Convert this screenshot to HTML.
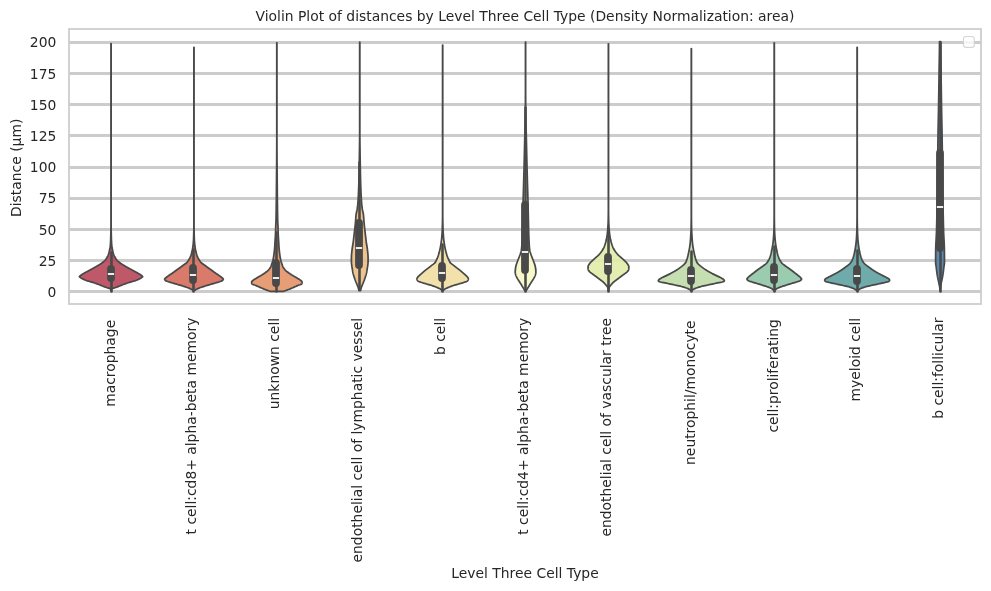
<!DOCTYPE html>
<html lang="en"><head><meta charset="utf-8"><title>Violin Plot of distances by Level Three Cell Type</title>
<style>html,body{margin:0;padding:0;background:#fff}svg{display:block}</style></head>
<body>
<svg width="991" height="591" viewBox="0 0 991 591">
<rect width="991" height="591" fill="#ffffff"/>
<path d="M69.0 291.5H981.0 M69.0 260.5H981.0 M69.0 229.5H981.0 M69.0 198.5H981.0 M69.0 167.5H981.0 M69.0 135.5H981.0 M69.0 104.5H981.0 M69.0 73.5H981.0 M69.0 42.5H981.0" stroke="#cccccc" stroke-width="2.78" fill="none"/>
<path d="M110.97 43.50 L110.97 47.50 L110.97 51.50 L110.97 55.50 L110.97 59.50 L110.97 63.50 L110.97 67.50 L110.97 71.50 L110.97 75.50 L110.97 79.50 L110.97 83.50 L110.97 87.50 L110.97 91.50 L110.97 95.50 L110.97 99.50 L110.97 103.50 L110.97 107.50 L110.97 111.50 L110.97 115.50 L110.97 119.50 L110.97 123.50 L110.97 127.50 L110.97 131.50 L110.97 135.50 L110.97 139.50 L110.97 143.50 L110.97 147.50 L110.97 151.50 L110.97 155.50 L110.97 159.50 L110.97 163.50 L110.97 167.50 L110.97 171.50 L110.97 175.50 L110.97 179.50 L110.97 183.50 L110.97 187.50 L110.97 191.50 L110.97 195.50 L110.97 199.50 L110.97 203.50 L110.97 207.50 L110.97 211.50 L110.97 215.50 L110.97 219.50 L110.97 223.50 L110.96 227.50 L110.90 231.50 L110.81 235.50 L110.69 239.50 L110.51 243.50 L110.16 247.50 L109.67 249.50 L109.25 251.50 L108.77 253.50 L108.03 255.50 L107.56 256.50 L107.02 257.50 L106.41 258.50 L105.69 259.50 L104.86 260.50 L103.84 261.50 L102.60 262.50 L101.22 263.50 L99.70 264.50 L98.05 265.50 L96.35 266.50 L94.58 267.50 L92.78 268.50 L90.95 269.50 L89.10 270.50 L87.26 271.50 L85.41 272.50 L84.87 272.80 L84.34 273.10 L83.84 273.40 L83.35 273.70 L82.85 274.00 L82.34 274.30 L81.84 274.60 L81.36 274.90 L80.91 275.20 L80.51 275.50 L80.17 275.80 L79.90 276.10 L79.64 276.40 L79.42 276.70 L79.81 277.00 L80.19 277.30 L80.57 277.60 L80.96 277.90 L81.42 278.20 L81.92 278.50 L82.47 278.80 L83.07 279.10 L83.70 279.40 L84.37 279.70 L85.08 280.00 L85.81 280.30 L86.59 280.60 L87.52 280.90 L88.55 281.20 L89.63 281.50 L90.72 281.80 L91.77 282.10 L92.75 282.40 L93.66 282.70 L94.55 283.00 L95.42 283.30 L96.27 283.60 L97.11 283.90 L97.93 284.20 L98.74 284.50 L99.55 284.80 L100.33 285.10 L101.07 285.40 L101.79 285.70 L102.50 286.00 L103.21 286.30 L103.94 286.60 L104.71 286.90 L105.51 287.20 L106.41 287.50 L107.57 287.80 L108.77 288.10 L109.62 288.40 L110.04 288.70 L110.32 289.00 L110.53 289.30 L110.70 289.60 L110.84 289.90 L110.94 290.20 L111.00 290.50 L111.05 290.75 L111.05 290.75 L111.10 290.50 L111.16 290.20 L111.26 289.90 L111.40 289.60 L111.57 289.30 L111.78 289.00 L112.06 288.70 L112.48 288.40 L113.33 288.10 L114.53 287.80 L115.69 287.50 L116.59 287.20 L117.39 286.90 L118.16 286.60 L118.89 286.30 L119.60 286.00 L120.31 285.70 L121.03 285.40 L121.77 285.10 L122.55 284.80 L123.36 284.50 L124.17 284.20 L124.99 283.90 L125.83 283.60 L126.68 283.30 L127.55 283.00 L128.44 282.70 L129.35 282.40 L130.33 282.10 L131.38 281.80 L132.47 281.50 L133.55 281.20 L134.58 280.90 L135.51 280.60 L136.29 280.30 L137.02 280.00 L137.73 279.70 L138.40 279.40 L139.03 279.10 L139.63 278.80 L140.18 278.50 L140.68 278.20 L141.14 277.90 L141.53 277.60 L141.91 277.30 L142.29 277.00 L142.68 276.70 L142.46 276.40 L142.20 276.10 L141.93 275.80 L141.59 275.50 L141.19 275.20 L140.74 274.90 L140.26 274.60 L139.76 274.30 L139.25 274.00 L138.75 273.70 L138.26 273.40 L137.76 273.10 L137.23 272.80 L136.69 272.50 L134.84 271.50 L133.00 270.50 L131.15 269.50 L129.32 268.50 L127.52 267.50 L125.75 266.50 L124.05 265.50 L122.40 264.50 L120.88 263.50 L119.50 262.50 L118.26 261.50 L117.24 260.50 L116.41 259.50 L115.69 258.50 L115.08 257.50 L114.54 256.50 L114.07 255.50 L113.33 253.50 L112.85 251.50 L112.43 249.50 L111.94 247.50 L111.59 243.50 L111.41 239.50 L111.29 235.50 L111.20 231.50 L111.14 227.50 L111.13 223.50 L111.13 219.50 L111.13 215.50 L111.13 211.50 L111.13 207.50 L111.13 203.50 L111.13 199.50 L111.13 195.50 L111.13 191.50 L111.13 187.50 L111.13 183.50 L111.13 179.50 L111.13 175.50 L111.13 171.50 L111.13 167.50 L111.13 163.50 L111.13 159.50 L111.13 155.50 L111.13 151.50 L111.13 147.50 L111.13 143.50 L111.13 139.50 L111.13 135.50 L111.13 131.50 L111.13 127.50 L111.13 123.50 L111.13 119.50 L111.13 115.50 L111.13 111.50 L111.13 107.50 L111.13 103.50 L111.13 99.50 L111.13 95.50 L111.13 91.50 L111.13 87.50 L111.13 83.50 L111.13 79.50 L111.13 75.50 L111.13 71.50 L111.13 67.50 L111.13 63.50 L111.13 59.50 L111.13 55.50 L111.13 51.50 L111.13 47.50 L111.13 43.50 Z" fill="#b84659" fill-opacity="0.9" stroke="#494949" stroke-width="1.74" stroke-linejoin="round"/>
<path d="M193.87 47.30 L193.87 51.30 L193.87 55.30 L193.87 59.30 L193.87 63.30 L193.87 67.30 L193.87 71.30 L193.87 75.30 L193.87 79.30 L193.87 83.30 L193.87 87.30 L193.87 91.30 L193.87 95.30 L193.87 99.30 L193.87 103.30 L193.87 107.30 L193.87 111.30 L193.87 115.30 L193.87 119.30 L193.87 123.30 L193.87 127.30 L193.87 131.30 L193.87 135.30 L193.87 139.30 L193.87 143.30 L193.87 147.30 L193.87 151.30 L193.87 155.30 L193.87 159.30 L193.87 163.30 L193.87 167.30 L193.87 171.30 L193.87 175.30 L193.87 179.30 L193.87 183.30 L193.87 187.30 L193.87 191.30 L193.87 195.30 L193.87 199.30 L193.87 203.30 L193.87 207.30 L193.87 211.30 L193.87 215.30 L193.87 219.30 L193.87 223.30 L193.86 227.30 L193.80 231.30 L193.70 235.30 L193.56 239.30 L193.30 243.30 L193.07 245.30 L192.80 247.30 L192.48 249.30 L192.07 251.30 L191.59 253.30 L190.98 255.30 L190.17 257.30 L189.68 258.30 L189.11 259.30 L188.49 260.30 L187.83 261.30 L187.05 262.30 L186.00 263.30 L184.64 264.30 L183.23 265.30 L181.90 266.30 L180.56 267.30 L179.16 268.30 L177.70 269.30 L176.27 270.30 L174.92 271.30 L173.60 272.30 L172.18 273.30 L170.63 274.30 L170.16 274.60 L169.70 274.90 L169.26 275.20 L168.82 275.50 L168.39 275.80 L167.96 276.10 L167.53 276.40 L167.12 276.70 L166.71 277.00 L166.34 277.30 L165.99 277.60 L165.68 277.90 L165.36 278.20 L165.04 278.50 L164.74 278.80 L164.58 279.10 L164.66 279.40 L164.80 279.70 L164.99 280.00 L165.21 280.30 L165.54 280.60 L166.13 280.90 L166.88 281.20 L167.68 281.50 L168.50 281.80 L169.39 282.10 L170.40 282.40 L171.48 282.70 L172.56 283.00 L173.61 283.30 L174.64 283.60 L175.66 283.90 L176.68 284.20 L177.70 284.50 L178.71 284.80 L179.73 285.10 L180.76 285.40 L181.77 285.70 L182.76 286.00 L183.70 286.30 L184.62 286.60 L185.52 286.90 L186.40 287.20 L187.24 287.50 L188.04 287.80 L188.79 288.10 L189.48 288.40 L190.13 288.70 L190.75 289.00 L191.34 289.30 L191.90 289.60 L192.43 289.90 L192.94 290.20 L193.42 290.50 L193.95 290.57 L193.95 290.57 L194.48 290.50 L194.96 290.20 L195.47 289.90 L196.00 289.60 L196.56 289.30 L197.15 289.00 L197.77 288.70 L198.42 288.40 L199.11 288.10 L199.86 287.80 L200.66 287.50 L201.50 287.20 L202.38 286.90 L203.28 286.60 L204.20 286.30 L205.14 286.00 L206.13 285.70 L207.14 285.40 L208.17 285.10 L209.19 284.80 L210.20 284.50 L211.22 284.20 L212.24 283.90 L213.26 283.60 L214.29 283.30 L215.34 283.00 L216.42 282.70 L217.50 282.40 L218.51 282.10 L219.40 281.80 L220.22 281.50 L221.02 281.20 L221.77 280.90 L222.36 280.60 L222.69 280.30 L222.91 280.00 L223.10 279.70 L223.24 279.40 L223.32 279.10 L223.16 278.80 L222.86 278.50 L222.54 278.20 L222.22 277.90 L221.91 277.60 L221.56 277.30 L221.19 277.00 L220.78 276.70 L220.37 276.40 L219.94 276.10 L219.51 275.80 L219.08 275.50 L218.64 275.20 L218.20 274.90 L217.74 274.60 L217.27 274.30 L215.72 273.30 L214.30 272.30 L212.98 271.30 L211.63 270.30 L210.20 269.30 L208.74 268.30 L207.34 267.30 L206.00 266.30 L204.67 265.30 L203.26 264.30 L201.90 263.30 L200.85 262.30 L200.07 261.30 L199.41 260.30 L198.79 259.30 L198.22 258.30 L197.73 257.30 L196.92 255.30 L196.31 253.30 L195.83 251.30 L195.42 249.30 L195.10 247.30 L194.83 245.30 L194.60 243.30 L194.34 239.30 L194.20 235.30 L194.10 231.30 L194.04 227.30 L194.03 223.30 L194.03 219.30 L194.03 215.30 L194.03 211.30 L194.03 207.30 L194.03 203.30 L194.03 199.30 L194.03 195.30 L194.03 191.30 L194.03 187.30 L194.03 183.30 L194.03 179.30 L194.03 175.30 L194.03 171.30 L194.03 167.30 L194.03 163.30 L194.03 159.30 L194.03 155.30 L194.03 151.30 L194.03 147.30 L194.03 143.30 L194.03 139.30 L194.03 135.30 L194.03 131.30 L194.03 127.30 L194.03 123.30 L194.03 119.30 L194.03 115.30 L194.03 111.30 L194.03 107.30 L194.03 103.30 L194.03 99.30 L194.03 95.30 L194.03 91.30 L194.03 87.30 L194.03 83.30 L194.03 79.30 L194.03 75.30 L194.03 71.30 L194.03 67.30 L194.03 63.30 L194.03 59.30 L194.03 55.30 L194.03 51.30 L194.03 47.30 Z" fill="#d56b5b" fill-opacity="0.9" stroke="#494949" stroke-width="1.74" stroke-linejoin="round"/>
<path d="M276.77 42.80 L276.77 46.80 L276.77 50.80 L276.77 54.80 L276.77 58.80 L276.77 62.80 L276.77 66.80 L276.77 70.80 L276.77 74.80 L276.77 78.80 L276.77 82.80 L276.77 86.80 L276.77 90.80 L276.77 94.80 L276.77 98.80 L276.77 102.80 L276.77 106.80 L276.77 110.80 L276.77 114.80 L276.77 118.80 L276.77 122.80 L276.77 126.80 L276.77 130.80 L276.77 134.80 L276.77 138.80 L276.77 142.80 L276.76 146.80 L276.74 150.80 L276.72 154.80 L276.70 158.80 L276.67 162.80 L276.63 166.80 L276.60 170.80 L276.56 174.80 L276.53 178.80 L276.50 182.80 L276.46 186.80 L276.43 190.80 L276.39 194.80 L276.35 198.80 L276.31 202.80 L276.26 206.80 L276.20 210.80 L276.16 212.80 L276.13 214.80 L276.09 216.80 L276.05 218.80 L276.00 220.80 L275.91 222.80 L275.81 224.80 L275.72 226.80 L275.66 228.80 L275.61 230.80 L275.55 232.80 L275.46 234.80 L275.34 236.80 L275.22 238.80 L275.09 240.80 L274.98 242.80 L274.87 244.80 L274.74 246.80 L274.58 248.80 L274.38 250.80 L274.15 252.80 L273.89 254.80 L273.59 256.80 L273.42 257.80 L273.23 258.80 L273.02 259.80 L272.80 260.80 L272.52 261.80 L272.19 262.80 L271.84 263.80 L271.50 264.80 L271.17 265.80 L270.77 266.80 L270.22 267.80 L269.52 268.80 L268.69 269.80 L267.68 270.80 L266.50 271.80 L265.21 272.80 L263.77 273.80 L262.23 274.80 L260.57 275.80 L258.81 276.80 L257.09 277.80 L256.57 278.10 L256.05 278.40 L255.53 278.70 L255.02 279.00 L254.54 279.30 L254.08 279.60 L253.67 279.90 L253.26 280.20 L252.86 280.50 L252.48 280.80 L252.15 281.10 L251.92 281.40 L251.79 281.70 L251.68 282.00 L251.62 282.30 L251.63 282.60 L251.67 282.90 L251.73 283.20 L251.81 283.50 L251.90 283.80 L252.23 284.10 L252.87 284.40 L253.65 284.70 L254.49 285.00 L255.33 285.30 L256.11 285.60 L256.81 285.90 L257.47 286.20 L258.12 286.50 L258.78 286.80 L259.43 287.10 L260.09 287.40 L260.77 287.70 L261.46 288.00 L262.17 288.30 L262.89 288.60 L263.62 288.90 L264.37 289.20 L265.14 289.50 L265.91 289.80 L266.69 290.10 L267.50 290.40 L268.32 290.70 L269.16 291.00 L270.01 291.30 L270.24 291.38 L283.46 291.38 L283.69 291.30 L284.54 291.00 L285.38 290.70 L286.20 290.40 L287.01 290.10 L287.79 289.80 L288.56 289.50 L289.33 289.20 L290.08 288.90 L290.81 288.60 L291.53 288.30 L292.24 288.00 L292.93 287.70 L293.61 287.40 L294.27 287.10 L294.92 286.80 L295.58 286.50 L296.23 286.20 L296.89 285.90 L297.59 285.60 L298.37 285.30 L299.21 285.00 L300.05 284.70 L300.83 284.40 L301.47 284.10 L301.80 283.80 L301.89 283.50 L301.97 283.20 L302.03 282.90 L302.07 282.60 L302.08 282.30 L302.02 282.00 L301.91 281.70 L301.78 281.40 L301.55 281.10 L301.22 280.80 L300.84 280.50 L300.44 280.20 L300.03 279.90 L299.62 279.60 L299.16 279.30 L298.68 279.00 L298.17 278.70 L297.65 278.40 L297.13 278.10 L296.61 277.80 L294.89 276.80 L293.13 275.80 L291.47 274.80 L289.93 273.80 L288.49 272.80 L287.20 271.80 L286.02 270.80 L285.01 269.80 L284.18 268.80 L283.48 267.80 L282.93 266.80 L282.53 265.80 L282.20 264.80 L281.86 263.80 L281.51 262.80 L281.18 261.80 L280.90 260.80 L280.68 259.80 L280.47 258.80 L280.28 257.80 L280.11 256.80 L279.81 254.80 L279.55 252.80 L279.32 250.80 L279.12 248.80 L278.96 246.80 L278.83 244.80 L278.72 242.80 L278.61 240.80 L278.48 238.80 L278.36 236.80 L278.24 234.80 L278.15 232.80 L278.09 230.80 L278.04 228.80 L277.98 226.80 L277.89 224.80 L277.79 222.80 L277.70 220.80 L277.65 218.80 L277.61 216.80 L277.57 214.80 L277.54 212.80 L277.50 210.80 L277.44 206.80 L277.39 202.80 L277.35 198.80 L277.31 194.80 L277.27 190.80 L277.24 186.80 L277.20 182.80 L277.17 178.80 L277.14 174.80 L277.10 170.80 L277.07 166.80 L277.03 162.80 L277.00 158.80 L276.98 154.80 L276.96 150.80 L276.94 146.80 L276.93 142.80 L276.93 138.80 L276.93 134.80 L276.93 130.80 L276.93 126.80 L276.93 122.80 L276.93 118.80 L276.93 114.80 L276.93 110.80 L276.93 106.80 L276.93 102.80 L276.93 98.80 L276.93 94.80 L276.93 90.80 L276.93 86.80 L276.93 82.80 L276.93 78.80 L276.93 74.80 L276.93 70.80 L276.93 66.80 L276.93 62.80 L276.93 58.80 L276.93 54.80 L276.93 50.80 L276.93 46.80 L276.93 42.80 Z" fill="#e49467" fill-opacity="0.9" stroke="#494949" stroke-width="1.74" stroke-linejoin="round"/>
<path d="M359.67 42.00 L359.67 46.00 L359.67 50.00 L359.67 54.00 L359.67 58.00 L359.67 62.00 L359.67 66.00 L359.67 70.00 L359.67 74.00 L359.67 78.00 L359.67 82.00 L359.67 86.00 L359.67 90.00 L359.67 94.00 L359.67 98.00 L359.67 102.00 L359.67 106.00 L359.67 110.00 L359.67 114.00 L359.67 118.00 L359.67 122.00 L359.67 126.00 L359.67 130.00 L359.66 134.00 L359.63 138.00 L359.60 142.00 L359.55 146.00 L359.49 150.00 L359.43 154.00 L359.37 158.00 L359.31 162.00 L359.24 166.00 L359.17 170.00 L359.08 174.00 L359.04 176.00 L358.99 178.00 L358.94 180.00 L358.88 182.00 L358.82 184.00 L358.76 186.00 L358.69 188.00 L358.61 190.00 L358.53 192.00 L358.44 194.00 L358.34 196.00 L358.23 198.00 L358.11 200.00 L357.97 202.00 L357.81 204.00 L357.61 206.00 L357.39 208.00 L357.03 210.00 L356.58 212.00 L356.36 213.00 L356.17 214.00 L356.03 215.00 L355.93 216.00 L355.85 217.00 L355.78 218.00 L355.72 219.00 L355.66 220.00 L355.59 221.00 L355.51 222.00 L355.41 223.00 L355.32 224.00 L355.21 225.00 L355.10 226.00 L354.99 227.00 L354.88 228.00 L354.77 229.00 L354.66 230.00 L354.54 231.00 L354.42 232.00 L354.30 233.00 L354.18 234.00 L354.06 235.00 L353.94 236.00 L353.83 237.00 L353.72 238.00 L353.60 239.00 L353.49 240.00 L353.37 241.00 L353.24 242.00 L353.10 243.00 L352.95 244.00 L352.78 245.00 L352.61 246.00 L352.45 247.00 L352.29 248.00 L352.14 249.00 L352.02 250.00 L351.92 251.00 L351.81 252.00 L351.70 253.00 L351.61 254.00 L351.52 255.00 L351.46 256.00 L351.43 257.00 L351.42 257.30 L351.42 257.60 L351.42 257.90 L351.42 258.20 L351.42 258.50 L351.42 258.80 L351.42 259.10 L351.42 259.40 L351.42 259.70 L351.42 260.00 L351.42 260.30 L351.42 260.60 L351.42 260.90 L351.42 261.20 L351.42 261.50 L351.43 261.80 L351.44 262.10 L351.45 262.40 L351.47 262.70 L351.50 263.00 L351.52 263.30 L351.55 263.60 L351.58 263.90 L351.62 264.20 L351.65 264.50 L351.68 264.80 L351.71 265.10 L351.75 265.40 L351.79 265.70 L351.83 266.00 L351.87 266.30 L351.92 266.60 L351.97 266.90 L352.03 267.20 L352.08 267.50 L352.13 267.80 L352.18 268.10 L352.23 268.40 L352.28 268.70 L352.33 269.00 L352.38 269.30 L352.42 269.60 L352.46 269.90 L352.51 270.20 L352.55 270.50 L352.59 270.80 L352.64 271.10 L352.68 271.40 L352.73 271.70 L352.78 272.00 L352.84 272.30 L352.90 272.60 L352.96 272.90 L353.03 273.20 L353.10 273.50 L353.18 273.80 L353.27 274.10 L353.35 274.40 L353.44 274.70 L353.53 275.00 L353.62 275.30 L353.72 275.60 L353.81 275.90 L353.91 276.20 L354.00 276.50 L354.09 276.80 L354.19 277.10 L354.29 277.40 L354.39 277.70 L354.49 278.00 L354.59 278.30 L354.69 278.60 L354.80 278.90 L354.91 279.20 L355.01 279.50 L355.12 279.80 L355.23 280.10 L355.34 280.40 L355.45 280.70 L355.57 281.00 L355.69 281.30 L355.80 281.60 L355.92 281.90 L356.04 282.20 L356.16 282.50 L356.29 282.80 L356.41 283.10 L356.53 283.40 L356.65 283.70 L356.77 284.00 L356.89 284.30 L357.01 284.60 L357.14 284.90 L357.27 285.20 L357.40 285.50 L357.53 285.80 L357.66 286.10 L357.78 286.40 L357.90 286.70 L358.01 287.00 L358.11 287.30 L358.21 287.60 L358.30 287.90 L358.38 288.20 L358.46 288.50 L358.53 288.80 L358.61 289.10 L358.67 289.40 L358.74 289.70 L358.80 290.00 L358.85 290.30 L358.90 290.60 L358.91 290.67 L360.59 290.67 L360.60 290.60 L360.65 290.30 L360.70 290.00 L360.76 289.70 L360.83 289.40 L360.89 289.10 L360.97 288.80 L361.04 288.50 L361.12 288.20 L361.20 287.90 L361.29 287.60 L361.39 287.30 L361.49 287.00 L361.60 286.70 L361.72 286.40 L361.84 286.10 L361.97 285.80 L362.10 285.50 L362.23 285.20 L362.36 284.90 L362.49 284.60 L362.61 284.30 L362.73 284.00 L362.85 283.70 L362.97 283.40 L363.09 283.10 L363.21 282.80 L363.34 282.50 L363.46 282.20 L363.58 281.90 L363.70 281.60 L363.81 281.30 L363.93 281.00 L364.05 280.70 L364.16 280.40 L364.27 280.10 L364.38 279.80 L364.49 279.50 L364.59 279.20 L364.70 278.90 L364.81 278.60 L364.91 278.30 L365.01 278.00 L365.11 277.70 L365.21 277.40 L365.31 277.10 L365.41 276.80 L365.50 276.50 L365.59 276.20 L365.69 275.90 L365.78 275.60 L365.88 275.30 L365.97 275.00 L366.06 274.70 L366.15 274.40 L366.23 274.10 L366.32 273.80 L366.40 273.50 L366.47 273.20 L366.54 272.90 L366.60 272.60 L366.66 272.30 L366.72 272.00 L366.77 271.70 L366.82 271.40 L366.86 271.10 L366.91 270.80 L366.95 270.50 L366.99 270.20 L367.04 269.90 L367.08 269.60 L367.12 269.30 L367.17 269.00 L367.22 268.70 L367.27 268.40 L367.32 268.10 L367.37 267.80 L367.42 267.50 L367.47 267.20 L367.53 266.90 L367.58 266.60 L367.63 266.30 L367.67 266.00 L367.71 265.70 L367.75 265.40 L367.79 265.10 L367.82 264.80 L367.85 264.50 L367.88 264.20 L367.92 263.90 L367.95 263.60 L367.98 263.30 L368.00 263.00 L368.03 262.70 L368.05 262.40 L368.06 262.10 L368.07 261.80 L368.08 261.50 L368.08 261.20 L368.08 260.90 L368.08 260.60 L368.08 260.30 L368.08 260.00 L368.08 259.70 L368.08 259.40 L368.08 259.10 L368.08 258.80 L368.08 258.50 L368.08 258.20 L368.08 257.90 L368.08 257.60 L368.08 257.30 L368.07 257.00 L368.04 256.00 L367.98 255.00 L367.89 254.00 L367.80 253.00 L367.69 252.00 L367.58 251.00 L367.48 250.00 L367.36 249.00 L367.21 248.00 L367.05 247.00 L366.89 246.00 L366.72 245.00 L366.55 244.00 L366.40 243.00 L366.26 242.00 L366.13 241.00 L366.01 240.00 L365.90 239.00 L365.78 238.00 L365.67 237.00 L365.56 236.00 L365.44 235.00 L365.32 234.00 L365.20 233.00 L365.08 232.00 L364.96 231.00 L364.84 230.00 L364.73 229.00 L364.62 228.00 L364.51 227.00 L364.40 226.00 L364.29 225.00 L364.18 224.00 L364.09 223.00 L363.99 222.00 L363.91 221.00 L363.84 220.00 L363.78 219.00 L363.72 218.00 L363.65 217.00 L363.57 216.00 L363.47 215.00 L363.33 214.00 L363.14 213.00 L362.92 212.00 L362.47 210.00 L362.11 208.00 L361.89 206.00 L361.69 204.00 L361.53 202.00 L361.39 200.00 L361.27 198.00 L361.16 196.00 L361.06 194.00 L360.97 192.00 L360.89 190.00 L360.81 188.00 L360.74 186.00 L360.68 184.00 L360.62 182.00 L360.56 180.00 L360.51 178.00 L360.46 176.00 L360.42 174.00 L360.33 170.00 L360.26 166.00 L360.19 162.00 L360.13 158.00 L360.07 154.00 L360.01 150.00 L359.95 146.00 L359.90 142.00 L359.87 138.00 L359.84 134.00 L359.83 130.00 L359.83 126.00 L359.83 122.00 L359.83 118.00 L359.83 114.00 L359.83 110.00 L359.83 106.00 L359.83 102.00 L359.83 98.00 L359.83 94.00 L359.83 90.00 L359.83 86.00 L359.83 82.00 L359.83 78.00 L359.83 74.00 L359.83 70.00 L359.83 66.00 L359.83 62.00 L359.83 58.00 L359.83 54.00 L359.83 50.00 L359.83 46.00 L359.83 42.00 Z" fill="#ecbd81" fill-opacity="0.9" stroke="#494949" stroke-width="1.74" stroke-linejoin="round"/>
<path d="M442.57 45.10 L442.57 49.10 L442.57 53.10 L442.57 57.10 L442.57 61.10 L442.57 65.10 L442.57 69.10 L442.57 73.10 L442.57 77.10 L442.57 81.10 L442.57 85.10 L442.57 89.10 L442.57 93.10 L442.57 97.10 L442.57 101.10 L442.57 105.10 L442.57 109.10 L442.57 113.10 L442.57 117.10 L442.57 121.10 L442.57 125.10 L442.57 129.10 L442.57 133.10 L442.57 137.10 L442.57 141.10 L442.57 145.10 L442.57 149.10 L442.57 153.10 L442.57 157.10 L442.57 161.10 L442.57 165.10 L442.57 169.10 L442.57 173.10 L442.57 177.10 L442.57 181.10 L442.57 185.10 L442.57 189.10 L442.57 193.10 L442.57 197.10 L442.57 201.10 L442.57 205.10 L442.57 209.10 L442.57 213.10 L442.56 217.10 L442.51 221.10 L442.42 225.10 L442.30 229.10 L442.10 233.10 L441.80 237.10 L441.62 239.10 L441.38 241.10 L441.10 243.10 L440.78 245.10 L440.42 247.10 L440.01 249.10 L439.55 251.10 L439.29 252.10 L439.03 253.10 L438.73 254.10 L438.42 255.10 L438.08 256.10 L437.71 257.10 L437.30 258.10 L436.84 259.10 L436.37 260.10 L435.91 261.10 L435.42 262.10 L434.63 263.10 L433.38 264.10 L432.00 265.10 L430.74 266.10 L429.47 267.10 L428.17 268.10 L426.83 269.10 L425.52 270.10 L424.31 271.10 L423.18 272.10 L422.04 273.10 L420.89 274.10 L420.55 274.40 L420.22 274.70 L419.89 275.00 L419.58 275.30 L419.27 275.60 L418.95 275.90 L418.63 276.20 L418.32 276.50 L418.02 276.80 L417.75 277.10 L417.54 277.40 L417.37 277.70 L417.23 278.00 L417.10 278.30 L416.99 278.60 L416.93 278.90 L416.94 279.20 L417.00 279.50 L417.12 279.80 L417.26 280.10 L417.44 280.40 L417.64 280.70 L417.88 281.00 L418.40 281.30 L419.10 281.60 L419.92 281.90 L420.81 282.20 L421.71 282.50 L422.60 282.80 L423.53 283.10 L424.55 283.40 L425.61 283.70 L426.68 284.00 L427.71 284.30 L428.74 284.60 L429.78 284.90 L430.81 285.20 L431.78 285.50 L432.69 285.80 L433.55 286.10 L434.37 286.40 L435.16 286.70 L435.91 287.00 L436.64 287.30 L437.34 287.60 L438.01 287.90 L438.68 288.20 L439.31 288.50 L439.89 288.80 L440.41 289.10 L440.86 289.40 L441.28 289.70 L441.66 290.00 L442.00 290.30 L442.29 290.60 L442.65 290.75 L442.65 290.75 L443.01 290.60 L443.30 290.30 L443.64 290.00 L444.02 289.70 L444.44 289.40 L444.89 289.10 L445.41 288.80 L445.99 288.50 L446.62 288.20 L447.29 287.90 L447.96 287.60 L448.66 287.30 L449.39 287.00 L450.14 286.70 L450.93 286.40 L451.75 286.10 L452.61 285.80 L453.52 285.50 L454.49 285.20 L455.52 284.90 L456.56 284.60 L457.59 284.30 L458.62 284.00 L459.69 283.70 L460.75 283.40 L461.77 283.10 L462.70 282.80 L463.59 282.50 L464.49 282.20 L465.38 281.90 L466.20 281.60 L466.90 281.30 L467.42 281.00 L467.66 280.70 L467.86 280.40 L468.04 280.10 L468.18 279.80 L468.30 279.50 L468.36 279.20 L468.37 278.90 L468.31 278.60 L468.20 278.30 L468.07 278.00 L467.93 277.70 L467.76 277.40 L467.55 277.10 L467.28 276.80 L466.98 276.50 L466.67 276.20 L466.35 275.90 L466.03 275.60 L465.72 275.30 L465.41 275.00 L465.08 274.70 L464.75 274.40 L464.41 274.10 L463.26 273.10 L462.12 272.10 L460.99 271.10 L459.78 270.10 L458.47 269.10 L457.13 268.10 L455.83 267.10 L454.56 266.10 L453.30 265.10 L451.92 264.10 L450.67 263.10 L449.88 262.10 L449.39 261.10 L448.93 260.10 L448.46 259.10 L448.00 258.10 L447.59 257.10 L447.22 256.10 L446.88 255.10 L446.57 254.10 L446.27 253.10 L446.01 252.10 L445.75 251.10 L445.29 249.10 L444.88 247.10 L444.52 245.10 L444.20 243.10 L443.92 241.10 L443.68 239.10 L443.50 237.10 L443.20 233.10 L443.00 229.10 L442.88 225.10 L442.79 221.10 L442.74 217.10 L442.73 213.10 L442.73 209.10 L442.73 205.10 L442.73 201.10 L442.73 197.10 L442.73 193.10 L442.73 189.10 L442.73 185.10 L442.73 181.10 L442.73 177.10 L442.73 173.10 L442.73 169.10 L442.73 165.10 L442.73 161.10 L442.73 157.10 L442.73 153.10 L442.73 149.10 L442.73 145.10 L442.73 141.10 L442.73 137.10 L442.73 133.10 L442.73 129.10 L442.73 125.10 L442.73 121.10 L442.73 117.10 L442.73 113.10 L442.73 109.10 L442.73 105.10 L442.73 101.10 L442.73 97.10 L442.73 93.10 L442.73 89.10 L442.73 85.10 L442.73 81.10 L442.73 77.10 L442.73 73.10 L442.73 69.10 L442.73 65.10 L442.73 61.10 L442.73 57.10 L442.73 53.10 L442.73 49.10 L442.73 45.10 Z" fill="#f1dea1" fill-opacity="0.9" stroke="#494949" stroke-width="1.74" stroke-linejoin="round"/>
<path d="M525.47 42.00 L525.47 46.00 L525.47 50.00 L525.47 54.00 L525.47 58.00 L525.47 62.00 L525.47 66.00 L525.47 70.00 L525.47 74.00 L525.47 78.00 L525.47 82.00 L525.47 86.00 L525.47 90.00 L525.47 94.00 L525.45 98.00 L525.44 102.00 L525.42 106.00 L525.39 110.00 L525.33 114.00 L525.26 118.00 L525.17 122.00 L525.07 126.00 L524.97 130.00 L524.86 134.00 L524.81 136.00 L524.77 138.00 L524.72 140.00 L524.68 142.00 L524.63 144.00 L524.59 146.00 L524.54 148.00 L524.50 150.00 L524.45 152.00 L524.41 154.00 L524.36 156.00 L524.31 158.00 L524.27 160.00 L524.22 162.00 L524.17 164.00 L524.12 166.00 L524.07 168.00 L524.02 170.00 L523.97 172.00 L523.91 174.00 L523.86 176.00 L523.80 178.00 L523.74 180.00 L523.69 182.00 L523.63 184.00 L523.57 186.00 L523.51 188.00 L523.45 190.00 L523.39 192.00 L523.34 194.00 L523.28 196.00 L523.22 198.00 L523.17 200.00 L523.12 202.00 L523.07 204.00 L523.02 206.00 L522.98 208.00 L522.93 210.00 L522.89 212.00 L522.84 214.00 L522.80 216.00 L522.76 218.00 L522.71 220.00 L522.67 222.00 L522.63 224.00 L522.58 226.00 L522.53 228.00 L522.51 229.00 L522.48 230.00 L522.45 231.00 L522.42 232.00 L522.39 233.00 L522.35 234.00 L522.32 235.00 L522.29 236.00 L522.25 237.00 L522.21 238.00 L522.17 239.00 L522.12 240.00 L522.08 241.00 L522.03 242.00 L521.98 243.00 L521.92 244.00 L521.87 245.00 L521.80 246.00 L521.73 247.00 L521.64 248.00 L521.54 249.00 L521.43 250.00 L521.25 251.00 L520.97 252.00 L520.64 253.00 L520.30 254.00 L519.96 255.00 L519.59 256.00 L519.21 257.00 L518.83 258.00 L518.43 259.00 L518.03 260.00 L517.63 261.00 L517.26 262.00 L516.88 263.00 L516.52 264.00 L516.20 265.00 L515.96 266.00 L515.74 267.00 L515.56 268.00 L515.51 268.30 L515.47 268.60 L515.43 268.90 L515.41 269.20 L515.38 269.50 L515.35 269.80 L515.32 270.10 L515.30 270.40 L515.28 270.70 L515.26 271.00 L515.24 271.30 L515.23 271.60 L515.22 271.90 L515.22 272.20 L515.24 272.50 L515.26 272.80 L515.31 273.10 L515.36 273.40 L515.42 273.70 L515.48 274.00 L515.55 274.30 L515.62 274.60 L515.70 274.90 L515.78 275.20 L515.89 275.50 L516.01 275.80 L516.15 276.10 L516.29 276.40 L516.44 276.70 L516.60 277.00 L516.76 277.30 L516.92 277.60 L517.08 277.90 L517.24 278.20 L517.41 278.50 L517.58 278.80 L517.76 279.10 L517.95 279.40 L518.14 279.70 L518.32 280.00 L518.51 280.30 L518.70 280.60 L518.89 280.90 L519.08 281.20 L519.27 281.50 L519.47 281.80 L519.66 282.10 L519.86 282.40 L520.06 282.70 L520.25 283.00 L520.45 283.30 L520.64 283.60 L520.83 283.90 L521.01 284.20 L521.19 284.50 L521.37 284.80 L521.55 285.10 L521.73 285.40 L521.91 285.70 L522.09 286.00 L522.26 286.30 L522.44 286.60 L522.62 286.90 L522.81 287.20 L522.99 287.50 L523.17 287.80 L523.35 288.10 L523.53 288.40 L523.71 288.70 L523.90 289.00 L524.09 289.30 L524.28 289.60 L524.47 289.90 L524.67 290.20 L524.86 290.50 L525.06 290.80 L525.55 290.82 L525.55 290.82 L526.04 290.80 L526.24 290.50 L526.43 290.20 L526.63 289.90 L526.82 289.60 L527.01 289.30 L527.20 289.00 L527.39 288.70 L527.57 288.40 L527.75 288.10 L527.93 287.80 L528.11 287.50 L528.29 287.20 L528.48 286.90 L528.66 286.60 L528.84 286.30 L529.01 286.00 L529.19 285.70 L529.37 285.40 L529.55 285.10 L529.73 284.80 L529.91 284.50 L530.09 284.20 L530.27 283.90 L530.46 283.60 L530.65 283.30 L530.85 283.00 L531.04 282.70 L531.24 282.40 L531.44 282.10 L531.63 281.80 L531.83 281.50 L532.02 281.20 L532.21 280.90 L532.40 280.60 L532.59 280.30 L532.78 280.00 L532.96 279.70 L533.15 279.40 L533.34 279.10 L533.52 278.80 L533.69 278.50 L533.86 278.20 L534.02 277.90 L534.18 277.60 L534.34 277.30 L534.50 277.00 L534.66 276.70 L534.81 276.40 L534.95 276.10 L535.09 275.80 L535.21 275.50 L535.32 275.20 L535.40 274.90 L535.48 274.60 L535.55 274.30 L535.62 274.00 L535.68 273.70 L535.74 273.40 L535.79 273.10 L535.84 272.80 L535.86 272.50 L535.88 272.20 L535.88 271.90 L535.87 271.60 L535.86 271.30 L535.84 271.00 L535.82 270.70 L535.80 270.40 L535.78 270.10 L535.75 269.80 L535.72 269.50 L535.69 269.20 L535.67 268.90 L535.63 268.60 L535.59 268.30 L535.54 268.00 L535.36 267.00 L535.14 266.00 L534.90 265.00 L534.58 264.00 L534.22 263.00 L533.84 262.00 L533.47 261.00 L533.07 260.00 L532.67 259.00 L532.27 258.00 L531.89 257.00 L531.51 256.00 L531.14 255.00 L530.80 254.00 L530.46 253.00 L530.13 252.00 L529.85 251.00 L529.67 250.00 L529.56 249.00 L529.46 248.00 L529.37 247.00 L529.30 246.00 L529.23 245.00 L529.18 244.00 L529.12 243.00 L529.07 242.00 L529.02 241.00 L528.98 240.00 L528.93 239.00 L528.89 238.00 L528.85 237.00 L528.81 236.00 L528.78 235.00 L528.75 234.00 L528.71 233.00 L528.68 232.00 L528.65 231.00 L528.62 230.00 L528.59 229.00 L528.57 228.00 L528.52 226.00 L528.47 224.00 L528.43 222.00 L528.39 220.00 L528.34 218.00 L528.30 216.00 L528.26 214.00 L528.21 212.00 L528.17 210.00 L528.12 208.00 L528.08 206.00 L528.03 204.00 L527.98 202.00 L527.93 200.00 L527.88 198.00 L527.82 196.00 L527.76 194.00 L527.71 192.00 L527.65 190.00 L527.59 188.00 L527.53 186.00 L527.47 184.00 L527.41 182.00 L527.36 180.00 L527.30 178.00 L527.24 176.00 L527.19 174.00 L527.13 172.00 L527.08 170.00 L527.03 168.00 L526.98 166.00 L526.93 164.00 L526.88 162.00 L526.83 160.00 L526.79 158.00 L526.74 156.00 L526.69 154.00 L526.65 152.00 L526.60 150.00 L526.56 148.00 L526.51 146.00 L526.47 144.00 L526.42 142.00 L526.38 140.00 L526.33 138.00 L526.29 136.00 L526.24 134.00 L526.13 130.00 L526.03 126.00 L525.93 122.00 L525.84 118.00 L525.77 114.00 L525.71 110.00 L525.68 106.00 L525.66 102.00 L525.65 98.00 L525.63 94.00 L525.63 90.00 L525.63 86.00 L525.63 82.00 L525.63 78.00 L525.63 74.00 L525.63 70.00 L525.63 66.00 L525.63 62.00 L525.63 58.00 L525.63 54.00 L525.63 50.00 L525.63 46.00 L525.63 42.00 Z" fill="#f7f7c6" fill-opacity="0.9" stroke="#494949" stroke-width="1.74" stroke-linejoin="round"/>
<path d="M608.37 43.80 L608.37 47.80 L608.37 51.80 L608.37 55.80 L608.37 59.80 L608.37 63.80 L608.37 67.80 L608.37 71.80 L608.37 75.80 L608.37 79.80 L608.37 83.80 L608.37 87.80 L608.37 91.80 L608.37 95.80 L608.37 99.80 L608.37 103.80 L608.37 107.80 L608.37 111.80 L608.37 115.80 L608.37 119.80 L608.37 123.80 L608.37 127.80 L608.37 131.80 L608.37 135.80 L608.37 139.80 L608.37 143.80 L608.37 147.80 L608.37 151.80 L608.37 155.80 L608.37 159.80 L608.37 163.80 L608.37 167.80 L608.37 171.80 L608.37 175.80 L608.37 179.80 L608.37 183.80 L608.37 187.80 L608.37 191.80 L608.37 195.80 L608.37 199.80 L608.37 203.80 L608.37 207.80 L608.36 211.80 L608.32 215.80 L608.25 219.80 L608.11 223.80 L607.87 227.80 L607.54 231.80 L607.32 233.80 L607.05 235.80 L606.71 237.80 L606.30 239.80 L605.82 241.80 L605.26 243.80 L604.93 244.80 L604.58 245.80 L604.18 246.80 L603.74 247.80 L603.24 248.80 L602.68 249.80 L602.05 250.80 L601.36 251.80 L600.60 252.80 L599.75 253.80 L598.79 254.80 L597.72 255.80 L596.58 256.80 L595.43 257.80 L594.31 258.80 L593.22 259.80 L592.16 260.80 L591.17 261.80 L590.29 262.80 L590.04 263.10 L589.80 263.40 L589.57 263.70 L589.35 264.00 L589.13 264.30 L588.93 264.60 L588.74 264.90 L588.57 265.20 L588.42 265.50 L588.30 265.80 L588.21 266.10 L588.14 266.40 L588.10 266.70 L588.07 267.00 L588.06 267.30 L588.06 267.60 L588.07 267.90 L588.08 268.20 L588.10 268.50 L588.12 268.80 L588.15 269.10 L588.20 269.40 L588.26 269.70 L588.35 270.00 L588.47 270.30 L588.65 270.60 L588.86 270.90 L589.12 271.20 L589.40 271.50 L589.71 271.80 L590.05 272.10 L590.40 272.40 L590.77 272.70 L591.16 273.00 L591.55 273.30 L591.96 273.60 L592.37 273.90 L592.79 274.20 L593.21 274.50 L593.63 274.80 L594.04 275.10 L594.46 275.40 L594.86 275.70 L595.27 276.00 L595.67 276.30 L596.07 276.60 L596.46 276.90 L596.86 277.20 L597.25 277.50 L597.65 277.80 L598.04 278.10 L598.44 278.40 L598.84 278.70 L599.24 279.00 L599.64 279.30 L600.04 279.60 L600.44 279.90 L600.84 280.20 L601.25 280.50 L601.65 280.80 L602.04 281.10 L602.43 281.40 L602.80 281.70 L603.15 282.00 L603.49 282.30 L603.80 282.60 L604.10 282.90 L604.38 283.20 L604.65 283.50 L604.92 283.80 L605.17 284.10 L605.44 284.40 L605.70 284.70 L605.97 285.00 L606.24 285.30 L606.51 285.60 L606.76 285.90 L607.00 286.20 L607.23 286.50 L607.42 286.80 L607.60 287.10 L607.75 287.40 L607.87 287.70 L607.98 288.00 L608.07 288.30 L608.14 288.60 L608.20 288.90 L608.25 289.20 L608.30 289.50 L608.33 289.80 L608.36 290.10 L608.38 290.40 L608.39 290.70 L608.45 290.72 L608.45 290.72 L608.51 290.70 L608.52 290.40 L608.54 290.10 L608.57 289.80 L608.60 289.50 L608.65 289.20 L608.70 288.90 L608.76 288.60 L608.83 288.30 L608.92 288.00 L609.03 287.70 L609.15 287.40 L609.30 287.10 L609.48 286.80 L609.67 286.50 L609.90 286.20 L610.14 285.90 L610.39 285.60 L610.66 285.30 L610.93 285.00 L611.20 284.70 L611.46 284.40 L611.73 284.10 L611.98 283.80 L612.25 283.50 L612.52 283.20 L612.80 282.90 L613.10 282.60 L613.41 282.30 L613.75 282.00 L614.10 281.70 L614.47 281.40 L614.86 281.10 L615.25 280.80 L615.65 280.50 L616.06 280.20 L616.46 279.90 L616.86 279.60 L617.26 279.30 L617.66 279.00 L618.06 278.70 L618.46 278.40 L618.86 278.10 L619.25 277.80 L619.65 277.50 L620.04 277.20 L620.44 276.90 L620.83 276.60 L621.23 276.30 L621.63 276.00 L622.04 275.70 L622.44 275.40 L622.86 275.10 L623.27 274.80 L623.69 274.50 L624.11 274.20 L624.53 273.90 L624.94 273.60 L625.35 273.30 L625.74 273.00 L626.13 272.70 L626.50 272.40 L626.85 272.10 L627.19 271.80 L627.50 271.50 L627.78 271.20 L628.04 270.90 L628.25 270.60 L628.43 270.30 L628.55 270.00 L628.64 269.70 L628.70 269.40 L628.75 269.10 L628.78 268.80 L628.80 268.50 L628.82 268.20 L628.83 267.90 L628.84 267.60 L628.84 267.30 L628.83 267.00 L628.80 266.70 L628.76 266.40 L628.69 266.10 L628.60 265.80 L628.48 265.50 L628.33 265.20 L628.16 264.90 L627.97 264.60 L627.77 264.30 L627.55 264.00 L627.33 263.70 L627.10 263.40 L626.86 263.10 L626.61 262.80 L625.73 261.80 L624.74 260.80 L623.68 259.80 L622.59 258.80 L621.47 257.80 L620.32 256.80 L619.18 255.80 L618.11 254.80 L617.15 253.80 L616.30 252.80 L615.54 251.80 L614.85 250.80 L614.22 249.80 L613.66 248.80 L613.16 247.80 L612.72 246.80 L612.32 245.80 L611.97 244.80 L611.64 243.80 L611.08 241.80 L610.60 239.80 L610.19 237.80 L609.85 235.80 L609.58 233.80 L609.36 231.80 L609.03 227.80 L608.79 223.80 L608.65 219.80 L608.58 215.80 L608.54 211.80 L608.53 207.80 L608.53 203.80 L608.53 199.80 L608.53 195.80 L608.53 191.80 L608.53 187.80 L608.53 183.80 L608.53 179.80 L608.53 175.80 L608.53 171.80 L608.53 167.80 L608.53 163.80 L608.53 159.80 L608.53 155.80 L608.53 151.80 L608.53 147.80 L608.53 143.80 L608.53 139.80 L608.53 135.80 L608.53 131.80 L608.53 127.80 L608.53 123.80 L608.53 119.80 L608.53 115.80 L608.53 111.80 L608.53 107.80 L608.53 103.80 L608.53 99.80 L608.53 95.80 L608.53 91.80 L608.53 87.80 L608.53 83.80 L608.53 79.80 L608.53 75.80 L608.53 71.80 L608.53 67.80 L608.53 63.80 L608.53 59.80 L608.53 55.80 L608.53 51.80 L608.53 47.80 L608.53 43.80 Z" fill="#e2eca9" fill-opacity="0.9" stroke="#494949" stroke-width="1.74" stroke-linejoin="round"/>
<path d="M691.27 48.60 L691.27 52.60 L691.27 56.60 L691.27 60.60 L691.27 64.60 L691.27 68.60 L691.27 72.60 L691.27 76.60 L691.27 80.60 L691.27 84.60 L691.27 88.60 L691.27 92.60 L691.27 96.60 L691.27 100.60 L691.27 104.60 L691.27 108.60 L691.27 112.60 L691.27 116.60 L691.27 120.60 L691.27 124.60 L691.27 128.60 L691.27 132.60 L691.27 136.60 L691.27 140.60 L691.27 144.60 L691.27 148.60 L691.27 152.60 L691.27 156.60 L691.27 160.60 L691.27 164.60 L691.27 168.60 L691.27 172.60 L691.27 176.60 L691.27 180.60 L691.27 184.60 L691.27 188.60 L691.27 192.60 L691.27 196.60 L691.27 200.60 L691.27 204.60 L691.27 208.60 L691.27 212.60 L691.27 216.60 L691.24 220.60 L691.18 224.60 L691.11 228.60 L690.95 232.60 L690.71 236.60 L690.58 238.60 L690.43 240.60 L690.26 242.60 L690.05 244.60 L689.77 246.60 L689.42 248.60 L689.02 250.60 L688.62 252.60 L688.21 254.60 L687.99 255.60 L687.75 256.60 L687.48 257.60 L687.17 258.60 L686.82 259.60 L686.46 260.60 L686.10 261.60 L685.60 262.60 L684.83 263.60 L683.82 264.60 L682.72 265.60 L681.47 266.60 L680.13 267.60 L678.80 268.60 L677.41 269.60 L675.89 270.60 L674.19 271.60 L672.35 272.60 L670.42 273.60 L668.36 274.60 L666.29 275.60 L664.16 276.60 L663.53 276.90 L662.91 277.20 L662.31 277.50 L661.76 277.80 L661.23 278.10 L660.70 278.40 L660.18 278.70 L659.69 279.00 L659.28 279.30 L658.99 279.60 L658.77 279.90 L658.56 280.20 L658.40 280.50 L658.32 280.80 L658.53 281.10 L658.83 281.40 L659.31 281.70 L660.47 282.00 L661.96 282.30 L663.57 282.60 L665.10 282.90 L666.48 283.20 L667.87 283.50 L669.27 283.80 L670.67 284.10 L672.06 284.40 L673.46 284.70 L674.84 285.00 L676.24 285.30 L677.66 285.60 L679.05 285.90 L680.33 286.20 L681.50 286.50 L682.61 286.80 L683.65 287.10 L684.63 287.40 L685.52 287.70 L686.33 288.00 L687.09 288.30 L687.81 288.60 L688.47 288.90 L689.06 289.20 L689.57 289.50 L690.02 289.80 L690.43 290.10 L690.78 290.40 L691.08 290.70 L691.35 290.72 L691.35 290.72 L691.62 290.70 L691.92 290.40 L692.27 290.10 L692.68 289.80 L693.13 289.50 L693.64 289.20 L694.23 288.90 L694.89 288.60 L695.61 288.30 L696.37 288.00 L697.18 287.70 L698.07 287.40 L699.05 287.10 L700.09 286.80 L701.20 286.50 L702.37 286.20 L703.65 285.90 L705.04 285.60 L706.46 285.30 L707.86 285.00 L709.24 284.70 L710.64 284.40 L712.03 284.10 L713.43 283.80 L714.83 283.50 L716.22 283.20 L717.60 282.90 L719.13 282.60 L720.74 282.30 L722.23 282.00 L723.39 281.70 L723.87 281.40 L724.17 281.10 L724.38 280.80 L724.30 280.50 L724.14 280.20 L723.93 279.90 L723.71 279.60 L723.42 279.30 L723.01 279.00 L722.52 278.70 L722.00 278.40 L721.47 278.10 L720.94 277.80 L720.39 277.50 L719.79 277.20 L719.17 276.90 L718.54 276.60 L716.41 275.60 L714.34 274.60 L712.28 273.60 L710.35 272.60 L708.51 271.60 L706.81 270.60 L705.29 269.60 L703.90 268.60 L702.57 267.60 L701.23 266.60 L699.98 265.60 L698.88 264.60 L697.87 263.60 L697.10 262.60 L696.60 261.60 L696.24 260.60 L695.88 259.60 L695.53 258.60 L695.22 257.60 L694.95 256.60 L694.71 255.60 L694.49 254.60 L694.08 252.60 L693.68 250.60 L693.28 248.60 L692.93 246.60 L692.65 244.60 L692.44 242.60 L692.27 240.60 L692.12 238.60 L691.99 236.60 L691.75 232.60 L691.59 228.60 L691.52 224.60 L691.46 220.60 L691.43 216.60 L691.43 212.60 L691.43 208.60 L691.43 204.60 L691.43 200.60 L691.43 196.60 L691.43 192.60 L691.43 188.60 L691.43 184.60 L691.43 180.60 L691.43 176.60 L691.43 172.60 L691.43 168.60 L691.43 164.60 L691.43 160.60 L691.43 156.60 L691.43 152.60 L691.43 148.60 L691.43 144.60 L691.43 140.60 L691.43 136.60 L691.43 132.60 L691.43 128.60 L691.43 124.60 L691.43 120.60 L691.43 116.60 L691.43 112.60 L691.43 108.60 L691.43 104.60 L691.43 100.60 L691.43 96.60 L691.43 92.60 L691.43 88.60 L691.43 84.60 L691.43 80.60 L691.43 76.60 L691.43 72.60 L691.43 68.60 L691.43 64.60 L691.43 60.60 L691.43 56.60 L691.43 52.60 L691.43 48.60 Z" fill="#c0dca9" fill-opacity="0.9" stroke="#494949" stroke-width="1.74" stroke-linejoin="round"/>
<path d="M774.17 42.80 L774.17 46.80 L774.17 50.80 L774.17 54.80 L774.17 58.80 L774.17 62.80 L774.17 66.80 L774.17 70.80 L774.17 74.80 L774.17 78.80 L774.17 82.80 L774.17 86.80 L774.17 90.80 L774.17 94.80 L774.17 98.80 L774.17 102.80 L774.17 106.80 L774.17 110.80 L774.17 114.80 L774.17 118.80 L774.17 122.80 L774.17 126.80 L774.17 130.80 L774.17 134.80 L774.17 138.80 L774.17 142.80 L774.17 146.80 L774.17 150.80 L774.17 154.80 L774.17 158.80 L774.17 162.80 L774.17 166.80 L774.17 170.80 L774.17 174.80 L774.17 178.80 L774.17 182.80 L774.17 186.80 L774.17 190.80 L774.17 194.80 L774.17 198.80 L774.17 202.80 L774.17 206.80 L774.17 210.80 L774.17 214.80 L774.15 218.80 L774.11 222.80 L774.04 226.80 L773.93 230.80 L773.73 234.80 L773.45 238.80 L773.26 240.80 L773.04 242.80 L772.75 244.80 L772.41 246.80 L772.04 248.80 L771.67 250.80 L771.24 252.80 L771.00 253.80 L770.73 254.80 L770.42 255.80 L770.07 256.80 L769.68 257.80 L769.25 258.80 L768.79 259.80 L768.27 260.80 L767.66 261.80 L766.92 262.80 L765.89 263.80 L764.67 264.80 L763.39 265.80 L761.99 266.80 L760.57 267.80 L759.15 268.80 L757.75 269.80 L756.41 270.80 L755.16 271.80 L753.90 272.80 L752.57 273.80 L751.22 274.80 L750.84 275.10 L750.47 275.40 L750.10 275.70 L749.73 276.00 L749.36 276.30 L748.99 276.60 L748.65 276.90 L748.33 277.20 L748.04 277.50 L747.78 277.80 L747.54 278.10 L747.29 278.40 L747.07 278.70 L746.92 279.00 L746.99 279.30 L747.15 279.60 L747.36 279.90 L747.61 280.20 L747.90 280.50 L748.48 280.80 L749.23 281.10 L750.10 281.40 L751.05 281.70 L752.02 282.00 L752.98 282.30 L753.91 282.60 L754.90 282.90 L755.95 283.20 L757.00 283.50 L758.04 283.80 L759.03 284.10 L759.99 284.40 L760.93 284.70 L761.86 285.00 L762.78 285.30 L763.70 285.60 L764.65 285.90 L765.60 286.20 L766.55 286.50 L767.45 286.80 L768.28 287.10 L769.03 287.40 L769.74 287.70 L770.42 288.00 L771.05 288.30 L771.63 288.60 L772.14 288.90 L772.56 289.20 L772.93 289.50 L773.27 289.80 L773.56 290.10 L773.81 290.40 L774.01 290.70 L774.25 290.91 L774.25 290.91 L774.49 290.70 L774.69 290.40 L774.94 290.10 L775.23 289.80 L775.57 289.50 L775.94 289.20 L776.36 288.90 L776.87 288.60 L777.45 288.30 L778.08 288.00 L778.76 287.70 L779.47 287.40 L780.22 287.10 L781.05 286.80 L781.95 286.50 L782.90 286.20 L783.85 285.90 L784.80 285.60 L785.72 285.30 L786.64 285.00 L787.57 284.70 L788.51 284.40 L789.47 284.10 L790.46 283.80 L791.50 283.50 L792.55 283.20 L793.60 282.90 L794.59 282.60 L795.52 282.30 L796.48 282.00 L797.45 281.70 L798.40 281.40 L799.27 281.10 L800.02 280.80 L800.60 280.50 L800.89 280.20 L801.14 279.90 L801.35 279.60 L801.51 279.30 L801.58 279.00 L801.43 278.70 L801.21 278.40 L800.96 278.10 L800.72 277.80 L800.46 277.50 L800.17 277.20 L799.85 276.90 L799.51 276.60 L799.14 276.30 L798.77 276.00 L798.40 275.70 L798.03 275.40 L797.66 275.10 L797.28 274.80 L795.93 273.80 L794.60 272.80 L793.34 271.80 L792.09 270.80 L790.75 269.80 L789.35 268.80 L787.93 267.80 L786.51 266.80 L785.11 265.80 L783.83 264.80 L782.61 263.80 L781.58 262.80 L780.84 261.80 L780.23 260.80 L779.71 259.80 L779.25 258.80 L778.82 257.80 L778.43 256.80 L778.08 255.80 L777.77 254.80 L777.50 253.80 L777.26 252.80 L776.83 250.80 L776.46 248.80 L776.09 246.80 L775.75 244.80 L775.46 242.80 L775.24 240.80 L775.05 238.80 L774.77 234.80 L774.57 230.80 L774.46 226.80 L774.39 222.80 L774.35 218.80 L774.33 214.80 L774.33 210.80 L774.33 206.80 L774.33 202.80 L774.33 198.80 L774.33 194.80 L774.33 190.80 L774.33 186.80 L774.33 182.80 L774.33 178.80 L774.33 174.80 L774.33 170.80 L774.33 166.80 L774.33 162.80 L774.33 158.80 L774.33 154.80 L774.33 150.80 L774.33 146.80 L774.33 142.80 L774.33 138.80 L774.33 134.80 L774.33 130.80 L774.33 126.80 L774.33 122.80 L774.33 118.80 L774.33 114.80 L774.33 110.80 L774.33 106.80 L774.33 102.80 L774.33 98.80 L774.33 94.80 L774.33 90.80 L774.33 86.80 L774.33 82.80 L774.33 78.80 L774.33 74.80 L774.33 70.80 L774.33 66.80 L774.33 62.80 L774.33 58.80 L774.33 54.80 L774.33 50.80 L774.33 46.80 L774.33 42.80 Z" fill="#90c6a6" fill-opacity="0.9" stroke="#494949" stroke-width="1.74" stroke-linejoin="round"/>
<path d="M857.07 47.30 L857.07 51.30 L857.07 55.30 L857.07 59.30 L857.07 63.30 L857.07 67.30 L857.07 71.30 L857.07 75.30 L857.07 79.30 L857.07 83.30 L857.07 87.30 L857.07 91.30 L857.07 95.30 L857.07 99.30 L857.07 103.30 L857.07 107.30 L857.07 111.30 L857.07 115.30 L857.07 119.30 L857.07 123.30 L857.07 127.30 L857.07 131.30 L857.07 135.30 L857.07 139.30 L857.07 143.30 L857.07 147.30 L857.07 151.30 L857.07 155.30 L857.07 159.30 L857.07 163.30 L857.07 167.30 L857.07 171.30 L857.07 175.30 L857.07 179.30 L857.07 183.30 L857.07 187.30 L857.07 191.30 L857.07 195.30 L857.07 199.30 L857.07 203.30 L857.07 207.30 L857.07 211.30 L857.07 215.30 L857.05 219.30 L857.00 223.30 L856.93 227.30 L856.83 231.30 L856.67 235.30 L856.43 239.30 L856.24 241.30 L856.01 243.30 L855.76 245.30 L855.48 247.30 L855.15 249.30 L854.78 251.30 L854.36 253.30 L853.85 255.30 L853.57 256.30 L853.25 257.30 L852.88 258.30 L852.48 259.30 L852.05 260.30 L851.58 261.30 L851.00 262.30 L850.17 263.30 L849.05 264.30 L847.85 265.30 L846.63 266.30 L845.34 267.30 L843.98 268.30 L842.56 269.30 L841.07 270.30 L839.49 271.30 L837.82 272.30 L836.06 273.30 L834.15 274.30 L832.19 275.30 L831.60 275.60 L831.00 275.90 L830.38 276.20 L829.76 276.50 L829.15 276.80 L828.54 277.10 L827.96 277.40 L827.41 277.70 L826.91 278.00 L826.40 278.30 L825.89 278.60 L825.43 278.90 L825.09 279.20 L824.93 279.50 L824.79 279.80 L824.70 280.10 L824.69 280.40 L824.83 280.70 L825.06 281.00 L825.33 281.30 L825.86 281.60 L826.84 281.90 L828.05 282.20 L829.37 282.50 L830.70 282.80 L831.97 283.10 L833.34 283.40 L834.77 283.70 L836.20 284.00 L837.60 284.30 L838.99 284.60 L840.38 284.90 L841.77 285.20 L843.18 285.50 L844.59 285.80 L845.92 286.10 L847.12 286.40 L848.26 286.70 L849.34 287.00 L850.34 287.30 L851.25 287.60 L852.05 287.90 L852.76 288.20 L853.42 288.50 L854.03 288.80 L854.59 289.10 L855.11 289.40 L855.58 289.70 L856.02 290.00 L856.42 290.30 L856.77 290.60 L857.15 290.65 L857.15 290.65 L857.53 290.60 L857.88 290.30 L858.28 290.00 L858.72 289.70 L859.19 289.40 L859.71 289.10 L860.27 288.80 L860.88 288.50 L861.54 288.20 L862.25 287.90 L863.05 287.60 L863.96 287.30 L864.96 287.00 L866.04 286.70 L867.18 286.40 L868.38 286.10 L869.71 285.80 L871.12 285.50 L872.53 285.20 L873.92 284.90 L875.31 284.60 L876.70 284.30 L878.10 284.00 L879.53 283.70 L880.96 283.40 L882.33 283.10 L883.60 282.80 L884.93 282.50 L886.25 282.20 L887.46 281.90 L888.44 281.60 L888.97 281.30 L889.24 281.00 L889.47 280.70 L889.61 280.40 L889.60 280.10 L889.51 279.80 L889.37 279.50 L889.21 279.20 L888.87 278.90 L888.41 278.60 L887.90 278.30 L887.39 278.00 L886.89 277.70 L886.34 277.40 L885.76 277.10 L885.15 276.80 L884.54 276.50 L883.92 276.20 L883.30 275.90 L882.70 275.60 L882.11 275.30 L880.15 274.30 L878.24 273.30 L876.48 272.30 L874.81 271.30 L873.23 270.30 L871.74 269.30 L870.32 268.30 L868.96 267.30 L867.67 266.30 L866.45 265.30 L865.25 264.30 L864.13 263.30 L863.30 262.30 L862.72 261.30 L862.25 260.30 L861.82 259.30 L861.42 258.30 L861.05 257.30 L860.73 256.30 L860.45 255.30 L859.94 253.30 L859.52 251.30 L859.15 249.30 L858.82 247.30 L858.54 245.30 L858.29 243.30 L858.06 241.30 L857.87 239.30 L857.63 235.30 L857.47 231.30 L857.37 227.30 L857.30 223.30 L857.25 219.30 L857.23 215.30 L857.23 211.30 L857.23 207.30 L857.23 203.30 L857.23 199.30 L857.23 195.30 L857.23 191.30 L857.23 187.30 L857.23 183.30 L857.23 179.30 L857.23 175.30 L857.23 171.30 L857.23 167.30 L857.23 163.30 L857.23 159.30 L857.23 155.30 L857.23 151.30 L857.23 147.30 L857.23 143.30 L857.23 139.30 L857.23 135.30 L857.23 131.30 L857.23 127.30 L857.23 123.30 L857.23 119.30 L857.23 115.30 L857.23 111.30 L857.23 107.30 L857.23 103.30 L857.23 99.30 L857.23 95.30 L857.23 91.30 L857.23 87.30 L857.23 83.30 L857.23 79.30 L857.23 75.30 L857.23 71.30 L857.23 67.30 L857.23 63.30 L857.23 59.30 L857.23 55.30 L857.23 51.30 L857.23 47.30 Z" fill="#5fa2a2" fill-opacity="0.9" stroke="#494949" stroke-width="1.74" stroke-linejoin="round"/>
<path d="M939.52 41.50 L939.51 45.50 L939.47 49.50 L939.41 53.50 L939.38 55.50 L939.34 57.50 L939.30 59.50 L939.27 61.50 L939.23 63.50 L939.19 65.50 L939.16 67.50 L939.13 69.50 L939.10 71.50 L939.07 73.50 L939.04 75.50 L939.01 77.50 L938.98 79.50 L938.96 81.50 L938.93 83.50 L938.90 85.50 L938.87 87.50 L938.84 89.50 L938.81 91.50 L938.78 93.50 L938.75 95.50 L938.72 97.50 L938.69 99.50 L938.66 101.50 L938.63 103.50 L938.60 105.50 L938.56 107.50 L938.53 109.50 L938.49 111.50 L938.45 113.50 L938.41 115.50 L938.37 117.50 L938.33 119.50 L938.29 121.50 L938.25 123.50 L938.20 125.50 L938.17 127.50 L938.13 129.50 L938.09 131.50 L938.06 133.50 L938.03 135.50 L938.00 137.50 L937.97 139.50 L937.94 141.50 L937.91 143.50 L937.88 145.50 L937.86 147.50 L937.83 149.50 L937.80 151.50 L937.77 153.50 L937.74 155.50 L937.72 157.50 L937.69 159.50 L937.66 161.50 L937.64 163.50 L937.61 165.50 L937.59 167.50 L937.56 169.50 L937.53 171.50 L937.51 173.50 L937.48 175.50 L937.45 177.50 L937.43 179.50 L937.40 181.50 L937.37 183.50 L937.35 185.50 L937.32 187.50 L937.30 189.50 L937.27 191.50 L937.25 193.50 L937.22 195.50 L937.19 197.50 L937.17 199.50 L937.14 201.50 L937.11 203.50 L937.08 205.50 L937.05 207.50 L937.03 208.50 L937.01 209.50 L936.99 210.50 L936.98 211.50 L936.96 212.50 L936.94 213.50 L936.92 214.50 L936.90 215.50 L936.88 216.50 L936.86 217.50 L936.84 218.50 L936.82 219.50 L936.79 220.50 L936.77 221.50 L936.75 222.50 L936.72 223.50 L936.70 224.50 L936.67 225.50 L936.65 226.50 L936.62 227.50 L936.59 228.50 L936.56 229.50 L936.54 230.50 L936.50 231.50 L936.47 232.50 L936.43 233.50 L936.39 234.50 L936.34 235.50 L936.29 236.50 L936.24 237.50 L936.18 238.50 L936.13 239.50 L936.07 240.50 L936.02 241.50 L935.97 242.50 L935.92 243.50 L935.88 244.50 L935.84 245.50 L935.80 246.50 L935.77 247.50 L935.74 248.50 L935.72 249.50 L935.71 250.50 L935.70 251.50 L935.68 252.50 L935.67 253.50 L935.66 254.50 L935.65 255.50 L935.64 256.50 L935.64 257.50 L935.63 257.80 L935.63 258.10 L935.63 258.40 L935.63 258.70 L935.63 259.00 L935.63 259.30 L935.62 259.60 L935.62 259.90 L935.62 260.20 L935.62 260.50 L935.62 260.80 L935.62 261.10 L935.62 261.40 L935.62 261.70 L935.62 262.00 L935.63 262.30 L935.64 262.60 L935.66 262.90 L935.68 263.20 L935.71 263.50 L935.74 263.80 L935.78 264.10 L935.82 264.40 L935.86 264.70 L935.90 265.00 L935.94 265.30 L935.99 265.60 L936.03 265.90 L936.08 266.20 L936.12 266.50 L936.17 266.80 L936.21 267.10 L936.25 267.40 L936.29 267.70 L936.33 268.00 L936.36 268.30 L936.40 268.60 L936.43 268.90 L936.47 269.20 L936.51 269.50 L936.54 269.80 L936.58 270.10 L936.62 270.40 L936.65 270.70 L936.69 271.00 L936.73 271.30 L936.76 271.60 L936.80 271.90 L936.84 272.20 L936.88 272.50 L936.92 272.80 L936.96 273.10 L937.00 273.40 L937.04 273.70 L937.09 274.00 L937.13 274.30 L937.18 274.60 L937.22 274.90 L937.27 275.20 L937.32 275.50 L937.36 275.80 L937.42 276.10 L937.47 276.40 L937.53 276.70 L937.58 277.00 L937.64 277.30 L937.70 277.60 L937.76 277.90 L937.83 278.20 L937.89 278.50 L937.96 278.80 L938.02 279.10 L938.09 279.40 L938.15 279.70 L938.22 280.00 L938.29 280.30 L938.35 280.60 L938.42 280.90 L938.49 281.20 L938.55 281.50 L938.62 281.80 L938.69 282.10 L938.75 282.40 L938.81 282.70 L938.88 283.00 L938.94 283.30 L939.00 283.60 L939.06 283.90 L939.12 284.20 L939.19 284.50 L939.25 284.80 L939.32 285.10 L939.38 285.40 L939.45 285.70 L939.51 286.00 L939.57 286.30 L939.62 286.60 L939.67 286.90 L939.72 287.20 L939.77 287.50 L939.80 287.80 L939.84 288.10 L939.87 288.40 L939.89 288.70 L939.92 289.00 L939.95 289.30 L939.97 289.60 L939.99 289.90 L940.00 290.20 L940.02 290.50 L940.05 290.57 L940.05 290.57 L940.08 290.50 L940.10 290.20 L940.11 289.90 L940.13 289.60 L940.15 289.30 L940.18 289.00 L940.21 288.70 L940.23 288.40 L940.26 288.10 L940.30 287.80 L940.33 287.50 L940.38 287.20 L940.43 286.90 L940.48 286.60 L940.53 286.30 L940.59 286.00 L940.65 285.70 L940.72 285.40 L940.78 285.10 L940.85 284.80 L940.91 284.50 L940.98 284.20 L941.04 283.90 L941.10 283.60 L941.16 283.30 L941.22 283.00 L941.29 282.70 L941.35 282.40 L941.41 282.10 L941.48 281.80 L941.55 281.50 L941.61 281.20 L941.68 280.90 L941.75 280.60 L941.81 280.30 L941.88 280.00 L941.95 279.70 L942.01 279.40 L942.08 279.10 L942.14 278.80 L942.21 278.50 L942.27 278.20 L942.34 277.90 L942.40 277.60 L942.46 277.30 L942.52 277.00 L942.57 276.70 L942.63 276.40 L942.68 276.10 L942.74 275.80 L942.78 275.50 L942.83 275.20 L942.88 274.90 L942.92 274.60 L942.97 274.30 L943.01 274.00 L943.06 273.70 L943.10 273.40 L943.14 273.10 L943.18 272.80 L943.22 272.50 L943.26 272.20 L943.30 271.90 L943.34 271.60 L943.37 271.30 L943.41 271.00 L943.45 270.70 L943.48 270.40 L943.52 270.10 L943.56 269.80 L943.59 269.50 L943.63 269.20 L943.67 268.90 L943.70 268.60 L943.74 268.30 L943.77 268.00 L943.81 267.70 L943.85 267.40 L943.89 267.10 L943.93 266.80 L943.98 266.50 L944.02 266.20 L944.07 265.90 L944.11 265.60 L944.16 265.30 L944.20 265.00 L944.24 264.70 L944.28 264.40 L944.32 264.10 L944.36 263.80 L944.39 263.50 L944.42 263.20 L944.44 262.90 L944.46 262.60 L944.47 262.30 L944.48 262.00 L944.48 261.70 L944.48 261.40 L944.48 261.10 L944.48 260.80 L944.48 260.50 L944.48 260.20 L944.48 259.90 L944.48 259.60 L944.47 259.30 L944.47 259.00 L944.47 258.70 L944.47 258.40 L944.47 258.10 L944.47 257.80 L944.46 257.50 L944.46 256.50 L944.45 255.50 L944.44 254.50 L944.43 253.50 L944.42 252.50 L944.40 251.50 L944.39 250.50 L944.38 249.50 L944.36 248.50 L944.33 247.50 L944.30 246.50 L944.26 245.50 L944.22 244.50 L944.18 243.50 L944.13 242.50 L944.08 241.50 L944.03 240.50 L943.97 239.50 L943.92 238.50 L943.86 237.50 L943.81 236.50 L943.76 235.50 L943.71 234.50 L943.67 233.50 L943.63 232.50 L943.60 231.50 L943.56 230.50 L943.54 229.50 L943.51 228.50 L943.48 227.50 L943.45 226.50 L943.43 225.50 L943.40 224.50 L943.38 223.50 L943.35 222.50 L943.33 221.50 L943.31 220.50 L943.28 219.50 L943.26 218.50 L943.24 217.50 L943.22 216.50 L943.20 215.50 L943.18 214.50 L943.16 213.50 L943.14 212.50 L943.12 211.50 L943.11 210.50 L943.09 209.50 L943.07 208.50 L943.05 207.50 L943.02 205.50 L942.99 203.50 L942.96 201.50 L942.93 199.50 L942.91 197.50 L942.88 195.50 L942.85 193.50 L942.83 191.50 L942.80 189.50 L942.78 187.50 L942.75 185.50 L942.73 183.50 L942.70 181.50 L942.67 179.50 L942.65 177.50 L942.62 175.50 L942.59 173.50 L942.57 171.50 L942.54 169.50 L942.51 167.50 L942.49 165.50 L942.46 163.50 L942.44 161.50 L942.41 159.50 L942.38 157.50 L942.36 155.50 L942.33 153.50 L942.30 151.50 L942.27 149.50 L942.24 147.50 L942.22 145.50 L942.19 143.50 L942.16 141.50 L942.13 139.50 L942.10 137.50 L942.07 135.50 L942.04 133.50 L942.01 131.50 L941.97 129.50 L941.93 127.50 L941.90 125.50 L941.85 123.50 L941.81 121.50 L941.77 119.50 L941.73 117.50 L941.69 115.50 L941.65 113.50 L941.61 111.50 L941.57 109.50 L941.54 107.50 L941.50 105.50 L941.47 103.50 L941.44 101.50 L941.41 99.50 L941.38 97.50 L941.35 95.50 L941.32 93.50 L941.29 91.50 L941.26 89.50 L941.23 87.50 L941.20 85.50 L941.17 83.50 L941.14 81.50 L941.12 79.50 L941.09 77.50 L941.06 75.50 L941.03 73.50 L941.00 71.50 L940.97 69.50 L940.94 67.50 L940.91 65.50 L940.87 63.50 L940.83 61.50 L940.80 59.50 L940.76 57.50 L940.72 55.50 L940.69 53.50 L940.63 49.50 L940.59 45.50 L940.58 41.50 Z" fill="#4a7da8" fill-opacity="0.9" stroke="#494949" stroke-width="1.74" stroke-linejoin="round"/>
<path d="M111.5 252.5V291.5" stroke="#494949" stroke-width="2.6" stroke-linecap="round" fill="none"/>
<path d="M111.0 269.0V278.0" stroke="#494949" stroke-width="7.8" stroke-linecap="round" fill="none"/>
<rect x="107.85" y="273" width="6.3" height="2" fill="#ececec"/>
<path d="M193.5 249.5V291.5" stroke="#494949" stroke-width="2.6" stroke-linecap="round" fill="none"/>
<path d="M193.0 268.0V280.0" stroke="#494949" stroke-width="7.8" stroke-linecap="round" fill="none"/>
<rect x="189.85" y="274" width="6.3" height="2" fill="#ececec"/>
<path d="M276.5 232.5V291.5" stroke="#494949" stroke-width="2.6" stroke-linecap="round" fill="none"/>
<path d="M276.0 263.0V283.0" stroke="#494949" stroke-width="7.8" stroke-linecap="round" fill="none"/>
<rect x="272.85" y="277" width="6.3" height="2" fill="#ececec"/>
<path d="M359.5 162.5V289.5" stroke="#494949" stroke-width="2.6" stroke-linecap="round" fill="none"/>
<path d="M359.0 223.0V265.0" stroke="#494949" stroke-width="7.8" stroke-linecap="round" fill="none"/>
<rect x="355.85" y="247" width="6.3" height="2" fill="#ececec"/>
<path d="M442.5 244.5V291.5" stroke="#494949" stroke-width="2.6" stroke-linecap="round" fill="none"/>
<path d="M442.0 266.0V278.0" stroke="#494949" stroke-width="7.8" stroke-linecap="round" fill="none"/>
<rect x="438.85" y="272" width="6.3" height="2" fill="#ececec"/>
<path d="M525.5 107.5V291.5" stroke="#494949" stroke-width="2.6" stroke-linecap="round" fill="none"/>
<path d="M525.0 205.0V270.0" stroke="#494949" stroke-width="7.8" stroke-linecap="round" fill="none"/>
<rect x="521.85" y="251" width="6.3" height="2" fill="#ececec"/>
<path d="M608.5 231.5V291.5" stroke="#494949" stroke-width="2.6" stroke-linecap="round" fill="none"/>
<path d="M608.0 257.0V271.0" stroke="#494949" stroke-width="7.8" stroke-linecap="round" fill="none"/>
<rect x="604.85" y="263" width="6.3" height="2" fill="#ececec"/>
<path d="M691.5 251.5V291.5" stroke="#494949" stroke-width="2.6" stroke-linecap="round" fill="none"/>
<path d="M691.0 270.0V281.0" stroke="#494949" stroke-width="7.8" stroke-linecap="round" fill="none"/>
<rect x="687.85" y="275" width="6.3" height="2" fill="#ececec"/>
<path d="M774.5 246.5V291.5" stroke="#494949" stroke-width="2.6" stroke-linecap="round" fill="none"/>
<path d="M774.0 267.0V280.0" stroke="#494949" stroke-width="7.8" stroke-linecap="round" fill="none"/>
<rect x="770.85" y="274" width="6.3" height="2" fill="#ececec"/>
<path d="M857.5 250.5V291.5" stroke="#494949" stroke-width="2.6" stroke-linecap="round" fill="none"/>
<path d="M857.0 269.0V281.0" stroke="#494949" stroke-width="7.8" stroke-linecap="round" fill="none"/>
<rect x="853.85" y="275" width="6.3" height="2" fill="#ececec"/>
<path d="M940.5 42.5V291.5" stroke="#494949" stroke-width="2.6" stroke-linecap="round" fill="none"/>
<path d="M940.0 153.0V248.0" stroke="#494949" stroke-width="7.8" stroke-linecap="round" fill="none"/>
<rect x="936.85" y="206" width="6.3" height="2" fill="#ececec"/>
<rect x="69.0" y="29.0" width="912.00" height="275.00" fill="none" stroke="#cccccc" stroke-width="1.74"/>
<rect x="963.45" y="36.55" width="10.9" height="10.8" rx="2.6" ry="2.6" fill="#ffffff" fill-opacity="0.8" stroke="#cccccc" stroke-opacity="0.8" stroke-width="1.11"/>
<g font-family='"DejaVu Sans", "Liberation Sans", sans-serif' font-size="13.89px" fill="#262626">
<text x="525" y="20.6" text-anchor="middle">Violin Plot of distances by Level Three Cell Type (Density Normalization: area)</text>
<text x="56.3" y="296.55" text-anchor="end">0</text>
<text x="56.3" y="265.55" text-anchor="end">25</text>
<text x="56.3" y="234.55" text-anchor="end">50</text>
<text x="56.3" y="202.55" text-anchor="end">75</text>
<text x="56.3" y="171.55" text-anchor="end">100</text>
<text x="56.3" y="140.55" text-anchor="end">125</text>
<text x="56.3" y="109.55" text-anchor="end">150</text>
<text x="56.3" y="78.55" text-anchor="end">175</text>
<text x="56.3" y="46.55" text-anchor="end">200</text>
<text transform="translate(20.5 167.8) rotate(-90)" text-anchor="middle">Distance (µm)</text>
<text transform="translate(115 319.80) rotate(-90)" text-anchor="end">macrophage</text>
<text transform="translate(196 317.60) rotate(-90)" text-anchor="end">t cell:cd8+ alpha-beta memory</text>
<text transform="translate(279 317.90) rotate(-90)" text-anchor="end">unknown cell</text>
<text transform="translate(362 317.90) rotate(-90)" text-anchor="end">endothelial cell of lymphatic vessel</text>
<text transform="translate(445 317.90) rotate(-90)" text-anchor="end">b cell</text>
<text transform="translate(528 317.90) rotate(-90)" text-anchor="end">t cell:cd4+ alpha-beta memory</text>
<text transform="translate(611 317.90) rotate(-90)" text-anchor="end">endothelial cell of vascular tree</text>
<text transform="translate(695 320.40) rotate(-90)" text-anchor="end">neutrophil/monocyte</text>
<text transform="translate(778 319.10) rotate(-90)" text-anchor="end">cell:proliferating</text>
<text transform="translate(860 317.90) rotate(-90)" text-anchor="end">myeloid cell</text>
<text transform="translate(943 317.60) rotate(-90)" text-anchor="end">b cell:follicular</text>
<text x="525" y="577.5" text-anchor="middle">Level Three Cell Type</text>
</g>
</svg>
</body></html>
